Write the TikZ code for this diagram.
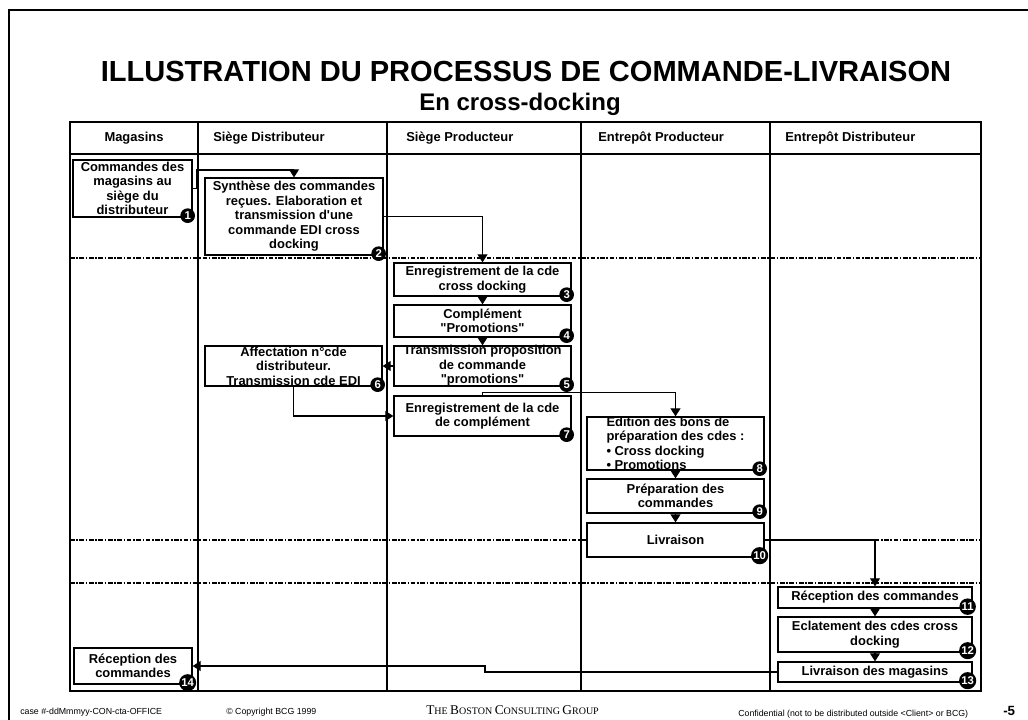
\documentclass[tikz,border=0pt]{standalone}
\usepackage{fontspec}
\setmainfont{Liberation Sans}
\newfontfamily\timesfont{Liberation Serif}
\usetikzlibrary{arrows.meta,fit}

\begin{document}
\begin{tikzpicture}[x=0.75pt,y=-0.75pt,
  box/.style={draw,line width=1pt,fill=white,inner sep=0pt},
  boxtext/.style={font=\fontsize{9.7}{10.9}\selectfont\bfseries,align=center,inner sep=0pt},
  entete/.style={font=\fontsize{9.7}{10.9}\selectfont\bfseries,inner sep=0pt},
  puce/.style={circle,fill=black,text=white,inner sep=0.6pt,minimum size=11pt,font=\fontsize{8.5}{8.5}\selectfont\bfseries},
  fleche/.style={line width=0.8pt,-{Triangle[width=7.5pt,length=6pt]}},
  sep/.style={line width=1.6pt,dash pattern=on 3.5pt off 1.2pt on 1.2pt off 1.2pt},
  pied/.style={font=\fontsize{6.6}{7}\selectfont,inner sep=0pt}]
\useasboundingbox (0,0) rectangle (1028,720);

% cadre de la page
\draw[line width=1.5pt] (9,720) -- (9,10) -- (1028,10);

\node[font=\fontsize{21.8}{22}\selectfont\bfseries,anchor=base] (titre) at (526,82) {ILLUSTRATION DU PROCESSUS DE COMMANDE-LIVRAISON};
\node[font=\fontsize{18}{18}\selectfont\bfseries,anchor=base] (soustitre) at (520,111) {En cross-docking};

% tableau
\draw[line width=0.9pt] (70,122) rectangle (981,691);
\draw[line width=0.9pt] (70,154) -- (981,154);
\foreach \x in {198,387,581,770}
  \draw[line width=0.9pt] (\x,122) -- (\x,691);

\node[entete] (h1) at (134,138) {Magasins};
\node[entete,anchor=west] (h2) at (213,138) {Siège Distributeur};
\node[entete,anchor=west] (h3) at (406,138) {Siège Producteur};
\node[entete,anchor=west] (h4) at (598,138) {Entrepôt Producteur};
\node[entete,anchor=west] (h5) at (785,138) {Entrepôt Distributeur};

\foreach \y in {258,540,583}
  \draw[sep] (70,\y) -- (981,\y);

% etapes
\node[box,fit={(73,160) (192,217)}] (b1) {};
\node[boxtext] (t1) at (b1) {Commandes des\\magasins au\\siège du\\distributeur};
\node[box,fit={(205,178) (383,255)}] (b2) {};
\node[boxtext] (t2) at (b2) {Synthèse des commandes\\reçues. Elaboration et\\transmission d\textquotesingle une\\commande EDI cross\\docking};
\node[box,fit={(394,263) (571,296)}] (b3) {};
\node[boxtext] (t3) at (b3) {Enregistrement de la cde\\cross docking};
\node[box,fit={(394,305) (571,337)}] (b4) {};
\node[boxtext] (t4) at (b4) {Complément\\\textquotedbl Promotions\textquotedbl};
\node[box,fit={(394,346) (571,386)}] (b5) {};
\node[boxtext] (t5) at (b5) {Transmission proposition\\de commande\\\textquotedbl promotions\textquotedbl};
\node[box,fit={(205,346) (382,386)}] (b6) {};
\node[boxtext] (t6) at (b6) {Affectation n°cde\\distributeur.\\Transmission cde EDI};
\node[box,fit={(394,396) (571,436)}] (b7) {};
\node[boxtext] (t7) at (b7) {Enregistrement de la cde\\de complément};
\node[box,fit={(587,417) (764,470)}] (b8) {};
\node[boxtext,align=left] (t8) at (b8) {Edition des bons de\\préparation des cdes :\\• Cross docking\\• Promotions};
\node[box,fit={(587,479) (764,513)}] (b9) {};
\node[boxtext] (t9) at (b9) {Préparation des\\commandes};
\node[box,fit={(587,523) (764,557)}] (b10) {};
\node[boxtext] (t10) at (b10) {Livraison};
\node[box,fit={(778,587) (972,608)}] (b11) {};
\node[boxtext] (t11) at (b11) {Réception des commandes};
\node[box,fit={(778,617) (972,652)}] (b12) {};
\node[boxtext] (t12) at (b12) {Eclatement des cdes cross\\docking};
\node[box,fit={(778,662) (972,682)}] (b13) {};
\node[boxtext] (t13) at (b13) {Livraison des magasins};
\node[box,fit={(74,648) (192,684)}] (b14) {};
\node[boxtext] (t14) at (b14) {Réception des\\commandes};

% numeros
\foreach \i in {1,...,14}
  \node[puce] (n\i) at ([shift={(-5,-2)}]b\i.south east) {\i};

% fleches
\coordinate (k1) at (197,170);
\coordinate (coude) at (485,666);
\draw[fleche] (b1.east) -- (b1.east -| k1) -- (k1) -| (b2.north);
\draw[fleche] (b2.east) -| (b3.north);
\draw[fleche] (b3.south) -- (b4.north);
\draw[fleche] (b4.south) -- (b5.north);
\draw[fleche] (b5.west) -- (b6.east);
\draw[fleche] (b6.south) |- (b7.west);
\draw[fleche] (b7.north) -- ++(0,-3) -| (b8.north);
\draw[fleche] (b8.south) -- (b9.north);
\draw[fleche] (b9.south) -- (b10.north);
\draw[fleche] (b10.east) -| (b11.north);
\draw[fleche] (b11.south) -- (b12.north);
\draw[fleche] (b12.south) -- (b13.north);
\draw[fleche] (b13.west) -| (coude) -- (b14.east);

% pied de page
\node[pied,anchor=base west] (f1) at (20,714) {case \#-ddMmmyy-CON-cta-OFFICE};
\node[pied,anchor=base west] (f2) at (226,714) {© Copyright BCG 1999};
\node[inner sep=0pt,anchor=base west] (f3) at (426,714) {\timesfont\fontsize{10}{10}\selectfont T\fontsize{7.5}{7.5}\selectfont HE \fontsize{10}{10}\selectfont B\fontsize{7.5}{7.5}\selectfont OSTON \fontsize{10}{10}\selectfont C\fontsize{7.5}{7.5}\selectfont ONSULTING \fontsize{10}{10}\selectfont G\fontsize{7.5}{7.5}\selectfont ROUP};
\node[pied,anchor=base west] (f4) at (738,716) {Confidential (not to be distributed outside <Client> or BCG)};
\node[font=\fontsize{10}{10}\selectfont\bfseries,inner sep=0pt,anchor=base west] (f5) at (1003,715) {-5};
\end{tikzpicture}
\end{document}
